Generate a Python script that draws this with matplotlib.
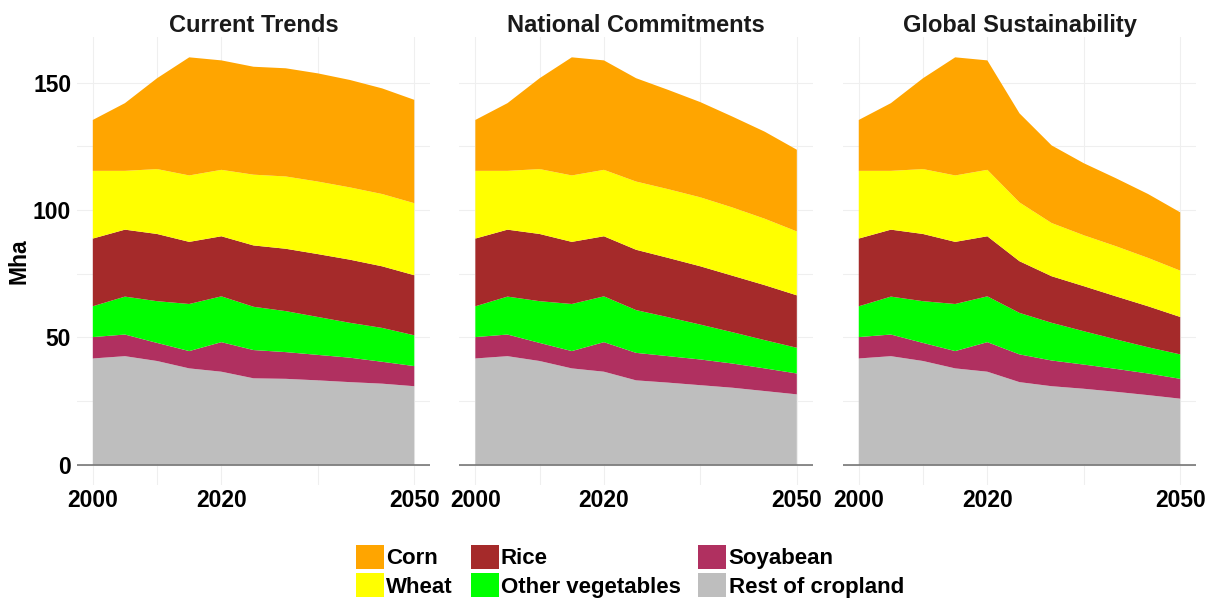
import matplotlib.pyplot as plt
from matplotlib.patches import Patch

plt.rcParams['font.family'] = ['Liberation Sans', 'DejaVu Sans']
plt.rcParams['font.weight'] = 'bold'

years = [2000, 2005, 2010, 2015, 2020, 2025, 2030, 2035, 2040, 2045, 2050]

# 2000-2020, identical in every scenario (Mha)
rest_hist = [41.7, 42.6, 40.7, 37.8, 36.5]
soy_hist = [8.4, 8.5, 7.1, 6.8, 11.6]
veg_hist = [12.1, 14.9, 16.4, 18.5, 18.0]
rice_hist = [26.6, 26.3, 26.4, 24.4, 23.6]
wheat_hist = [26.6, 23.1, 25.5, 26.1, 26.1]
corn_hist = [20.0, 26.6, 35.7, 46.4, 43.0]

# 2025-2050 projections
rest_ct = [33.9, 33.7, 33.1, 32.4, 31.8, 30.8]
soy_ct = [11.1, 10.5, 10.0, 9.6, 8.6, 7.9]
veg_ct = [17.0, 16.1, 14.9, 13.7, 13.3, 12.1]
rice_ct = [24.1, 24.5, 24.7, 24.8, 24.2, 23.6]
wheat_ct = [27.8, 28.4, 28.5, 28.4, 28.4, 28.3]
corn_ct = [42.4, 42.5, 42.5, 42.2, 41.5, 40.6]

rest_nc = [33.1, 32.2, 31.2, 30.2, 28.9, 27.6]
soy_nc = [10.8, 10.4, 10.1, 9.5, 8.9, 8.2]
veg_nc = [16.8, 15.3, 13.7, 12.3, 11.1, 10.1]
rice_nc = [23.7, 23.3, 22.9, 22.2, 21.6, 20.6]
wheat_nc = [26.8, 27.0, 27.1, 26.8, 26.1, 25.1]
corn_nc = [40.6, 39.0, 37.4, 35.7, 34.2, 32.1]

rest_gs = [32.4, 30.8, 29.8, 28.6, 27.3, 25.9]
soy_gs = [10.9, 10.1, 9.5, 9.0, 8.5, 7.8]
veg_gs = [16.3, 14.8, 13.1, 11.6, 10.3, 9.6]
rice_gs = [20.3, 18.3, 17.7, 16.9, 16.1, 14.7]
wheat_gs = [23.1, 20.9, 20.0, 19.7, 19.0, 18.2]
corn_gs = [35.0, 30.5, 28.3, 26.7, 25.1, 22.9]

scenarios = ['Current Trends', 'National Commitments', 'Global Sustainability']
projections = [
    (rest_ct, soy_ct, veg_ct, rice_ct, wheat_ct, corn_ct),
    (rest_nc, soy_nc, veg_nc, rice_nc, wheat_nc, corn_nc),
    (rest_gs, soy_gs, veg_gs, rice_gs, wheat_gs, corn_gs),
]
history = (rest_hist, soy_hist, veg_hist, rice_hist, wheat_hist, corn_hist)

# stacking order, bottom to top
crops = ['Rest of cropland', 'Soyabean', 'Other vegetables', 'Rice', 'Wheat', 'Corn']
colors = ['#BEBEBE', '#B03060', '#00FF00', '#A52A2A', '#FFFF00', '#FFA500']

fig = plt.figure(figsize=(12.16, 6.02), dpi=100)
lefts = [0.0631, 0.3777, 0.6930]

for i, name in enumerate(scenarios):
    ax = fig.add_axes([lefts[i], 0.1944, 0.2908, 0.7442])
    series = [h + p for h, p in zip(history, projections[i])]
    ax.stackplot(years, *series, colors=colors, linewidth=0)
    ax.set_xlim(1997.5, 2052.5)
    ax.set_ylim(-8, 168)
    ax.set_xticks([2000, 2020, 2050])
    ax.set_xticks([2010, 2035], minor=True)
    ax.set_yticks([0, 50, 100, 150])
    ax.set_yticks([25, 75, 125], minor=True)
    ax.grid(which='both', color='#efefef', linewidth=0.8)
    ax.set_axisbelow(True)
    ax.axhline(0, color='#6b6b6b', linewidth=1.1)
    for s in ax.spines.values():
        s.set_visible(False)
    ax.tick_params(which='both', length=0, labelsize=16.5, colors='black')
    ax.tick_params(axis='x', pad=3)
    ax.tick_params(axis='y', pad=4)
    if i > 0:
        ax.tick_params(axis='y', labelleft=False)
    else:
        ax.set_ylabel('Mha', fontsize=16.5, fontweight='bold', labelpad=2)
    ax.set_title(name, fontsize=17, fontweight='bold', pad=3.4, color='#1a1a1a')

# legend fills column by column
order = ['Corn', 'Wheat', 'Rice', 'Other vegetables', 'Soyabean', 'Rest of cropland']
handles = [Patch(facecolor=colors[crops.index(c)], linewidth=0, label=c) for c in order]
fig.legend(handles=handles, loc='center', bbox_to_anchor=(0.518, 0.051), ncol=3,
           frameon=False, fontsize=16, handlelength=1.26, handleheight=1.26,
           handletextpad=0.1, columnspacing=0.8, labelspacing=0.18, borderpad=0)

fig.savefig('out.png', dpi=100)
